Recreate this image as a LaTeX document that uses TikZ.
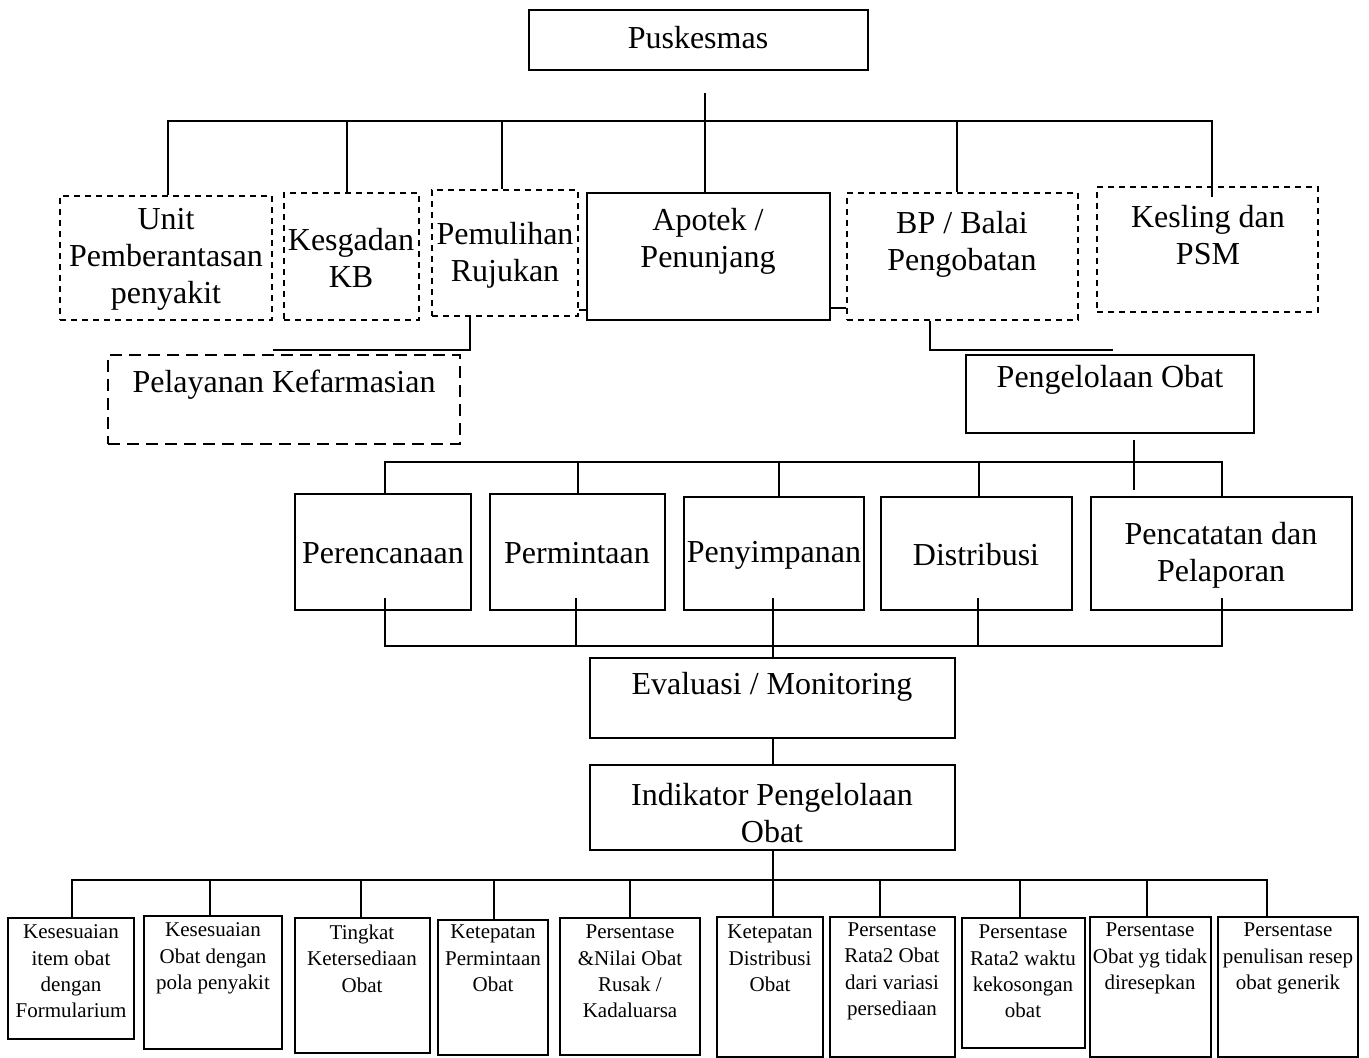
\documentclass[tikz,border=0pt]{standalone}
\usepackage{fontspec}
\setmainfont{Liberation Serif}
\usetikzlibrary{fit}
\begin{document}
\begin{tikzpicture}[x=0.5pt,y=-0.5pt,line width=1pt,
  bx/.style={draw,inner sep=0pt,line width=1pt},
  dbx/.style={bx,dash pattern=on 3pt off 2.5pt},
  lbx/.style={bx,dash pattern=on 6pt off 3.5pt},
  big/.style={font=\fontsize{16}{18.5}\selectfont,align=center,inner sep=0pt},
  sm/.style={font=\fontsize{10.5}{13.2}\selectfont,align=center,inner sep=0pt},
  conn/.style={line width=1pt}]
\useasboundingbox (0,0) rectangle (1369,1058);
% ---------- boxes ----------
\node[bx,fit={(529,10) (868,70)}] (pusk) {};
\node[big] at (698,38) {Puskesmas};

\node[dbx,fit={(60,196) (272,320)}] (unit) {};
\node[big] at (166,259) {Unit\\Pemberantasan\\penyakit};
\node[dbx,fit={(284,193) (419,320)}] (kesg) {};
\node[big] at (351,258) {Kesgadan\\KB};
\node[dbx,fit={(432,190) (578,316)}] (pemu) {};
\node[big] at (505,255) {Pemulihan\\Rujukan};
\node[bx,fit={(587,193) (830,320)}] (apotek) {};
\node[big] at (708,241) {Apotek /\\Penunjang};
\node[dbx,fit={(847,193) (1078,320)}] (bp) {};
\node[big] at (962,244) {BP / Balai\\Pengobatan};
\node[dbx,fit={(1097,187) (1318,312)}] (kesling) {};
\node[big] at (1208,235) {Kesling dan\\PSM};

\node[lbx,fit={(108,355) (460,444)}] (pelay) {};
\node[big] at (284,385) {Pelayanan Kefarmasian};
\node[bx,fit={(966,355) (1254,433)}] (pengel) {};
\node[big] at (1110,380) {Pengelolaan Obat};

\node[bx,fit={(295,494) (471,610)}] (peren) {};
\node[big] at (383,553) {Perencanaan};
\node[bx,fit={(490,494) (665,610)}] (permin) {};
\node[big] at (577,553) {Permintaan};
\node[bx,fit={(684,497) (864,610)}] (penyim) {};
\node[big] at (774,555) {Penyimpanan};
\node[bx,fit={(881,497) (1072,610)}] (distr) {};
\node[big] at (976,555) {Distribusi};
\node[bx,fit={(1091,497) (1352,610)}] (pencat) {};
\node[big] at (1221,555) {Pencatatan dan\\Pelaporan};

\node[bx,fit={(590,658) (955,738)}] (eval) {};
\node[big] at (772,687) {Evaluasi / Monitoring};
\node[bx,fit={(590,765) (955,850)}] (indik) {};
\node[big] at (772,813) {Indikator Pengelolaan\\Obat};

\node[bx,fit={(8,918) (134,1039)}] (k1) {};
\node[sm] at (71,971.5) {Kesesuaian\\item obat\\dengan\\Formularium};
\node[bx,fit={(144,916) (282,1049)}] (k2) {};
\node[sm] at (213,958.5) {Kesesuaian\\Obat dengan\\pola penyakit};
\node[bx,fit={(295,918) (430,1053)}] (k3) {};
\node[sm] at (362,958.5) {Tingkat\\Ketersediaan\\Obat};
\node[bx,fit={(438,920) (548,1055)}] (k4) {};
\node[sm] at (493,958.5) {Ketepatan\\Permintaan\\Obat};
\node[bx,fit={(560,918) (700,1055)}] (k5) {};
\node[sm] at (630,971.5) {Persentase\\\&Nilai Obat\\Rusak /\\Kadaluarsa};
\node[bx,fit={(717,917) (823,1057)}] (k6) {};
\node[sm] at (770,958.5) {Ketepatan\\Distribusi\\Obat};
\node[bx,fit={(830,917) (955,1057)}] (k7) {};
\node[sm] at (892,971.5) {Persentase\\Rata2 Obat\\dari variasi\\persediaan};
\node[bx,fit={(962,918) (1085,1048)}] (k8) {};
\node[sm] at (1023,971.5) {Persentase\\Rata2 waktu\\kekosongan\\obat};
\node[bx,fit={(1090,917) (1211,1057)}] (k9) {};
\node[sm] at (1150,958.5) {Persentase\\Obat yg tidak\\diresepkan};
\node[bx,fit={(1218,917) (1358,1057)}] (k10) {};
\node[sm] at (1288,958.5) {Persentase\\penulisan resep\\obat generik};

% ---------- connectors ----------
% top tree
\coordinate (ptop) at (705,93);
\draw[conn] (ptop) -- (ptop |- apotek.north);
\coordinate (t1) at (168,121);
\coordinate (t2) at (347,121);
\coordinate (t3) at (502,121);
\coordinate (t4) at (957,121);
\coordinate (t5) at (1212,121);
\coordinate (t5e) at (1212,197);
\draw[conn] (t1 |- unit.north) -- (t1) -- (t5) -- (t5e);
\draw[conn] (t2) -- (t2 |- kesg.north);
\draw[conn] (t3) -- (t3 |- pemu.north);
\draw[conn] (t4) -- (t4 |- bp.north);
\coordinate (s1) at (0,310);
\coordinate (s2) at (0,308);
\draw[conn] (pemu.east |- s1) -- (apotek.west |- s1);
\draw[conn] (apotek.east |- s2) -- (bp.west |- s2);
\coordinate (a1) at (470,350);
\coordinate (a2) at (273,350);
\draw[conn] (pemu.south -| a1) -- (a1) -- (a2);
\coordinate (b1) at (930,350);
\coordinate (b2) at (1113,350);
\draw[conn] (bp.south -| b1) -- (b1) -- (b2);
% middle tree
\coordinate (c1) at (1134,440);
\coordinate (c2) at (1134,490);
\draw[conn] (c1) -- (c2);
\coordinate (m1) at (385,462);
\coordinate (m2) at (578,462);
\coordinate (m3) at (779,462);
\coordinate (m4) at (979,462);
\coordinate (m5) at (1222,462);
\draw[conn] (m1 |- peren.north) -- (m1) -- (m5) -- (m5 |- pencat.north);
\draw[conn] (m2) -- (m2 |- permin.north);
\draw[conn] (m3) -- (m3 |- penyim.north);
\draw[conn] (m4) -- (m4 |- distr.north);
\coordinate (n1) at (385,646);
\coordinate (n2) at (576,646);
\coordinate (n3) at (773,598);
\coordinate (n4) at (978,646);
\coordinate (n5) at (1222,646);
\coordinate (in) at (0,598);
\draw[conn] (n1 |- in) -- (n1) -- (n5) -- (n5 |- in);
\draw[conn] (n2 |- in) -- (n2);
\draw[conn] (n4 |- in) -- (n4);
\draw[conn] (n3) -- (n3 |- eval.north);
\draw[conn] (eval.south -| n3) -- (indik.north -| n3);
% bottom tree
\coordinate (q0) at (773,850);
\draw[conn] (q0) -- (q0 |- k6.north);
\coordinate (q1) at (72,880);
\coordinate (q2) at (210,880);
\coordinate (q3) at (361,880);
\coordinate (q4) at (494,880);
\coordinate (q5) at (630,880);
\coordinate (q7) at (880,880);
\coordinate (q8) at (1020,880);
\coordinate (q9) at (1147,880);
\coordinate (q10) at (1267,880);
\draw[conn] (q1 |- k1.north) -- (q1) -- (q10) -- (q10 |- k10.north);
\draw[conn] (q2) -- (q2 |- k2.north);
\draw[conn] (q3) -- (q3 |- k3.north);
\draw[conn] (q4) -- (q4 |- k4.north);
\draw[conn] (q5) -- (q5 |- k5.north);
\draw[conn] (q7) -- (q7 |- k7.north);
\draw[conn] (q8) -- (q8 |- k8.north);
\draw[conn] (q9) -- (q9 |- k9.north);
\end{tikzpicture}
\end{document}
